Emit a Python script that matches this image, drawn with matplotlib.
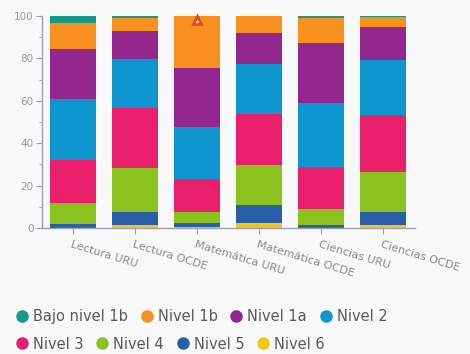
import numpy as np
import matplotlib
matplotlib.use("Agg")
import matplotlib.pyplot as plt
from matplotlib.lines import Line2D
from matplotlib.ticker import MultipleLocator

# Categories (x axis)
categories = ["Lectura URU", "Lectura OCDE", "Matemática URU",
              "Matemática OCDE", "Ciencias URU", "Ciencias OCDE"]

# Percentages per level, one value per category
nivel_6 = [0.2, 1.3, 0.4, 2.4, 0.2, 1.4]
nivel_5 = [1.8, 6.3, 1.8, 8.2, 1.2, 6.3]
nivel_4 = [9.8, 20.5, 5.5, 18.9, 7.4, 18.9]
nivel_3 = [20.2, 28.3, 15.3, 24.4, 20.1, 26.7]
nivel_2 = [28.7, 23.5, 24.8, 23.6, 29.9, 25.9]
nivel_1a = [23.6, 13.1, 27.5, 14.6, 28.6, 15.8]
nivel_1b = [12.5, 6.0, 24.7, 7.9, 11.8, 4.3]
bajo_1b = [3.2, 1.0, 0.0, 0.0, 0.8, 0.7]

# Marker drawn on top of one bar
marker_cat = 2
marker_val = 98

series = [
    ("Nivel 6", nivel_6, "#f2c41d"),
    ("Nivel 5", nivel_5, "#2a5fa8"),
    ("Nivel 4", nivel_4, "#8cc21e"),
    ("Nivel 3", nivel_3, "#ea1f6c"),
    ("Nivel 2", nivel_2, "#0d96d0"),
    ("Nivel 1a", nivel_1a, "#93268f"),
    ("Nivel 1b", nivel_1b, "#f7901e"),
    ("Bajo nivel 1b", bajo_1b, "#16998b"),
]
colors = {name: c for name, _, c in series}

bg = "#f8f8f8"
fig = plt.figure(figsize=(4.7, 3.54), dpi=100, facecolor=bg)
ax = fig.add_axes([0.089, 0.356, 0.794, 0.599])
ax.set_facecolor(bg)

x = np.arange(len(categories))
bottom = np.zeros(len(categories))
for name, vals, color in series:
    vals = np.array(vals)
    ax.bar(x, vals, bottom=bottom, width=0.74, color=color, linewidth=0)
    bottom += vals

# warning marker
ax.plot(marker_cat, marker_val, marker="^", markersize=6, markerfacecolor="white",
        markeredgecolor="#e64a1b", markeredgewidth=2, zorder=5, clip_on=False)

ax.set_xlim(-0.5, 5.52)
ax.set_ylim(0, 100)
ax.yaxis.set_major_locator(MultipleLocator(20))
ax.yaxis.set_minor_locator(MultipleLocator(10))

for side in ["top", "right"]:
    ax.spines[side].set_visible(False)
for side in ["left", "bottom"]:
    ax.spines[side].set_color("#9aa3ad")
    ax.spines[side].set_linewidth(1)

ax.tick_params(axis="y", which="major", length=4, color="#9aa3ad",
               labelsize=7.5, labelcolor="#9a9a9a", pad=2)
ax.tick_params(axis="y", which="minor", length=2, color="#9aa3ad")
ax.tick_params(axis="x", length=4, color="#9aa3ad", labelsize=8,
               labelcolor="#8a8a8a", pad=4)
ax.set_xticks(x)
ax.set_xticklabels(categories, rotation=-17, ha="left", rotation_mode="anchor")

# legend flowed in two rows
row1 = ["Bajo nivel 1b", "Nivel 1b", "Nivel 1a", "Nivel 2"]
row2 = ["Nivel 3", "Nivel 4", "Nivel 5", "Nivel 6"]
for row, ypos in [(row1, 0.107), (row2, 0.028)]:
    handles = [Line2D([0], [0], marker="o", linestyle="none", markersize=8,
                      markerfacecolor=colors[n], markeredgecolor=colors[n], label=n)
               for n in row]
    fig.legend(handles=handles, loc="center left", bbox_to_anchor=(0.028, ypos),
               ncol=4, frameon=False, fontsize=10.5, labelcolor="#5a5a5a",
               handletextpad=0.25, columnspacing=0.8, handlelength=1.0,
               borderaxespad=0, borderpad=0.1)

fig.savefig("out.png", dpi=100, facecolor=bg)
